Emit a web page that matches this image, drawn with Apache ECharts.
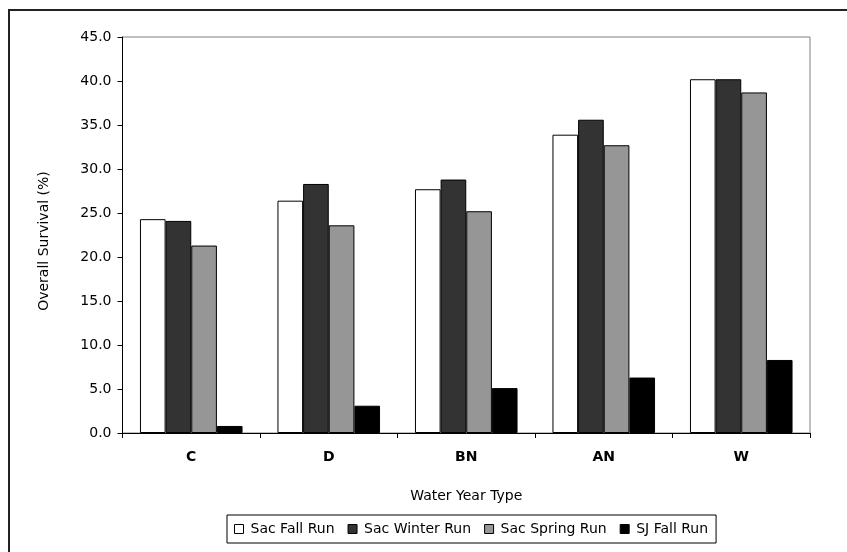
<!DOCTYPE html>
<html>
<head>
<meta charset="utf-8">
<script src="https://cdn.jsdelivr.net/npm/echarts@6/dist/echarts.min.js"></script>
<style>
html,body{margin:0;padding:0;background:#fff;}
#c{width:847px;height:552px;}
</style>
</head>
<body>
<div id="c"></div>
<script>
var categories = ['C', 'D', 'BN', 'AN', 'W'];
var seriesNames = ['Sac Fall Run', 'Sac Winter Run', 'Sac Spring Run', 'SJ Fall Run'];
var sacFallRun = [24.3, 26.4, 27.7, 33.9, 40.2];
var sacWinterRun = [24.1, 28.3, 28.8, 35.6, 40.2];
var sacSpringRun = [21.3, 23.6, 25.2, 32.7, 38.7];
var sjFallRun = [0.8, 3.1, 5.1, 6.3, 8.3];
var yTicks = [0, 5, 10, 15, 20, 25, 30, 35, 40, 45];

var colors = ['#ffffff', '#333333', '#969696', '#000000'];
var values = [sacFallRun, sacWinterRun, sacSpringRun, sjFallRun];
var FONT = '"DejaVu Sans", "Liberation Sans", Arial, sans-serif';

var chart = echarts.init(document.getElementById('c'), null, {renderer: 'canvas'});
var series = seriesNames.map(function (n, i) {
  return {
    name: n,
    type: 'bar',
    data: values[i],
    barGap: '0%',
    barCategoryGap: '25.4%',
    itemStyle: {color: colors[i], borderColor: '#000', borderWidth: 1},
    emphasis: {disabled: true},
    animation: false
  };
});

chart.setOption({
  animation: false,
  backgroundColor: '#fff',
  graphic: [{
    type: 'rect',
    shape: {x: 9, y: 10, width: 900, height: 600},
    style: {fill: 'none', stroke: '#222', lineWidth: 2},
    silent: true
  }],
  grid: {
    left: 122.5, right: 37, top: 37, bottom: 119,
    show: true, borderColor: '#808080', borderWidth: 1, backgroundColor: 'transparent'
  },
  legend: {
    data: seriesNames,
    left: 227, top: 515,
    icon: 'rect', itemWidth: 9, itemHeight: 9, itemGap: 13,
    borderColor: '#000', borderWidth: 1, padding: [7, 8, 7, 7],
    textStyle: {fontFamily: FONT, fontSize: 14, color: '#000', padding: [0, 0, 0, 2]},
    itemStyle: {borderColor: '#000', borderWidth: 1}
  },
  xAxis: {
    type: 'category',
    data: categories,
    name: 'Water Year Type',
    nameLocation: 'middle',
    nameGap: 56,
    nameTextStyle: {fontFamily: FONT, fontSize: 14, color: '#000'},
    axisLine: {lineStyle: {color: '#000', width: 1}},
    axisTick: {show: true, length: 5, lineStyle: {color: '#000'}},
    axisLabel: {fontFamily: FONT, fontSize: 14, fontWeight: 'bold', color: '#000', margin: 17},
    splitLine: {show: false}
  },
  yAxis: {
    type: 'value',
    min: yTicks[0], max: yTicks[yTicks.length - 1], interval: 5,
    name: 'Overall Survival (%)',
    nameLocation: 'middle',
    nameGap: 71,
    nameTextStyle: {fontFamily: FONT, fontSize: 14, color: '#000', padding: [0, 12, 0, 0]},
    axisLine: {show: true, lineStyle: {color: '#000', width: 1}},
    axisTick: {show: true, length: 5, lineStyle: {color: '#000'}},
    axisLabel: {fontFamily: FONT, fontSize: 14, color: '#000', margin: 11,
      formatter: function (v) { return v.toFixed(1); }},
    splitLine: {show: false}
  },
  series: series
});
</script>
</body>
</html>
